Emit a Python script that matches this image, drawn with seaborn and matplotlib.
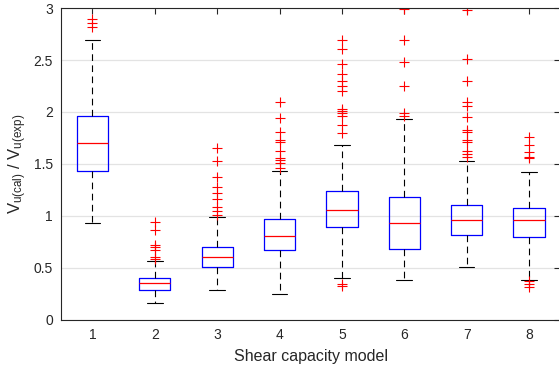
import matplotlib
matplotlib.use("Agg")
import matplotlib.pyplot as plt
import seaborn as sns

# ---- data ----
models = [1, 2, 3, 4, 5, 6, 7, 8]
tick_labels = ["1", "2", "3", "4", "5", "6", "7", "8"]
q1 = [1.433, 0.282, 0.503, 0.667, 0.888, 0.680, 0.814, 0.795]
median = [1.705, 0.349, 0.606, 0.808, 1.058, 0.930, 0.959, 0.955]
q3 = [1.964, 0.397, 0.702, 0.971, 1.234, 1.180, 1.100, 1.077]
whisker_low = [0.930, 0.160, 0.288, 0.250, 0.397, 0.382, 0.503, 0.382]
whisker_high = [2.695, 0.567, 0.984, 1.433, 1.686, 1.930, 1.526, 1.417]
outliers = [
    [2.90, 2.86, 2.82],
    [0.94, 0.86, 0.72, 0.70, 0.673, 0.60, 0.58],
    [1.65, 1.53, 1.37, 1.276, 1.218, 1.16, 1.084, 1.05, 1.01],
    [2.10, 1.945, 1.81, 1.73, 1.715, 1.62, 1.56, 1.54, 1.51, 1.46],
    [2.69, 2.61, 2.458, 2.365, 2.30, 2.25, 2.205, 2.03, 2.01, 1.99, 1.96,
     1.875, 1.795, 0.346, 0.32],
    [2.99, 2.69, 2.48, 2.25, 1.99, 1.96],
    [2.98, 2.51, 2.30, 2.10, 2.06, 1.95, 1.83, 1.81, 1.73, 1.715, 1.62,
     1.593, 1.565],
    [1.76, 1.686, 1.61, 1.57, 1.555, 0.368, 0.343, 0.314],
]
y_ticks = [0, 0.5, 1, 1.5, 2, 2.5, 3]
y_tick_labels = ["0", "0.5", "1", "1.5", "2", "2.5", "3"]

sns.set_theme(style="white")
plt.rcParams["font.family"] = ["Liberation Sans", "DejaVu Sans"]
plt.rcParams["mathtext.default"] = "regular"

fig = plt.figure(figsize=(5.59, 3.71), dpi=100)
ax = fig.add_axes([61.3 / 559, 1 - 319.5 / 371, 498.9 / 559, 311.3 / 371])

stats = []
for i in range(len(models)):
    stats.append(dict(med=median[i], q1=q1[i], q3=q3[i],
                      whislo=whisker_low[i], whishi=whisker_high[i],
                      fliers=outliers[i], label=tick_labels[i]))

ax.bxp(stats, positions=models, widths=0.5, showfliers=True,
       patch_artist=False, capwidths=0.25,
       boxprops=dict(color="#0000ff", linewidth=0.9),
       medianprops=dict(color="#ff0000", linewidth=0.9),
       whiskerprops=dict(color="#000000", linewidth=0.8, linestyle=(0, (6, 4))),
       capprops=dict(color="#000000", linewidth=0.8),
       flierprops=dict(marker="+", markeredgecolor="#ff0000", markersize=6.5,
                       markeredgewidth=0.8, linestyle="none"))

ax.set_xlim(0.5, 8.5)
ax.set_ylim(0, 3)
ax.set_xticks(models)
ax.set_xticklabels(tick_labels)
ax.set_yticks(y_ticks)
ax.set_yticklabels(y_tick_labels)
ax.yaxis.grid(True, color="#e3e3e3", linewidth=0.9)
ax.xaxis.grid(False)
ax.set_axisbelow(True)

for s in ax.spines.values():
    s.set_color("#262626")
    s.set_linewidth(0.8)
    s.set_visible(True)
ax.tick_params(direction="in", length=4, width=0.8, color="#262626",
               top=True, right=True, labelsize=10, labelcolor="#262626",
               pad=6)

ax.set_xlabel("Shear capacity model", fontsize=11.5, color="#262626", labelpad=5)
ax.set_ylabel(r"V$_{u(cal)}$ / V$_{u(exp)}$", fontsize=12, color="#262626",
              labelpad=3)

fig.savefig("out.png", dpi=100)
